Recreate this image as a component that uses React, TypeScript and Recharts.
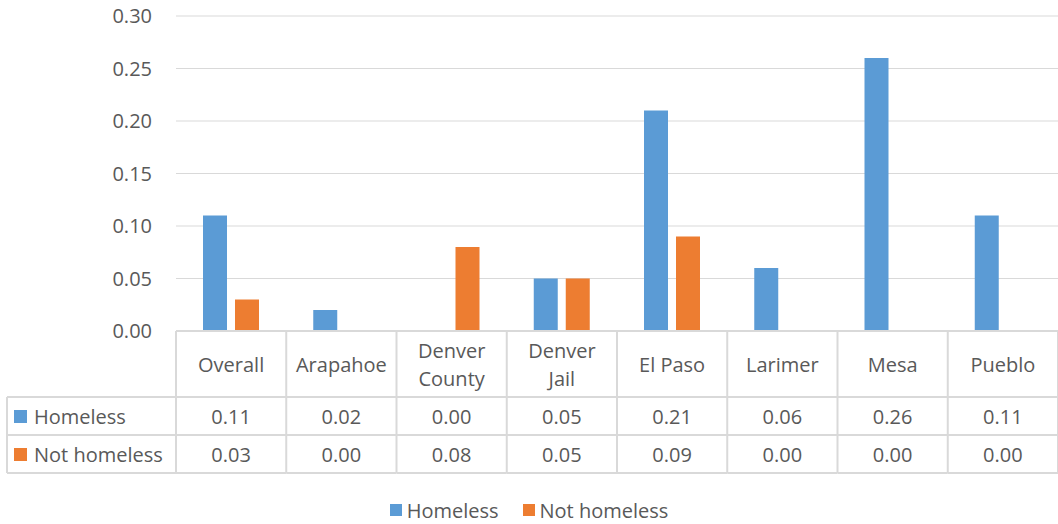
import { Bar, BarChart, CartesianGrid, Legend, XAxis, YAxis } from "recharts";

const categories = ["Overall", "Arapahoe", "Denver County", "Denver Jail", "El Paso", "Larimer", "Mesa", "Pueblo"];
const labelLines = [["Overall"], ["Arapahoe"], ["Denver", "County"], ["Denver", "Jail"], ["El Paso"], ["Larimer"], ["Mesa"], ["Pueblo"]];
const homeless = [0.11, 0.02, 0.0, 0.05, 0.21, 0.06, 0.26, 0.11];
const notHomeless = [0.03, 0.0, 0.08, 0.05, 0.09, 0.0, 0.0, 0.0];
const yTicks = [0, 0.05, 0.1, 0.15, 0.2, 0.25, 0.3];

const seriesNames = ["Homeless", "Not homeless"];
const seriesColors = ["#5B9BD5", "#ED7D31"];

const data = categories.map((name, i) => ({
  name,
  homeless: homeless[i],
  notHomeless: notHomeless[i],
}));

const W = 1058;
const H = 524;
const AXIS_W = 176;
const BAND = (W - AXIS_W) / categories.length;
const FONT = "'Open Sans', sans-serif";
const TEXT = "#595959";
const LINE = "#d9d9d9";

// table rows under the axis, measured from the axis line
const HEAD_H = 66;
const ROW_H = 38;

const TableTick = (props: any) => {
  const { x, y, payload } = props;
  const i = payload.index;
  const left = x - BAND / 2;
  const right = x + BAND / 2;
  const r1 = y + HEAD_H;
  const r2 = r1 + ROW_H;
  const r3 = r2 + ROW_H;
  const lines = labelLines[i];
  const txt = { fill: TEXT, fontSize: 20, fontFamily: FONT, textAnchor: "middle" as const, dominantBaseline: "central" as const };
  return (
    <g>
      {i === 0 && (
        <g>
          <line x1={left} y1={y} x2={left} y2={r3} stroke={LINE} strokeWidth={2} />
          <line x1={7} y1={r1} x2={left} y2={r1} stroke={LINE} strokeWidth={2} />
          <line x1={7} y1={r2} x2={left} y2={r2} stroke={LINE} strokeWidth={2} />
          <line x1={7} y1={r3} x2={left} y2={r3} stroke={LINE} strokeWidth={2} />
          <line x1={7} y1={r1} x2={7} y2={r3} stroke={LINE} strokeWidth={2} />
          {seriesNames.map((s, k) => (
            <g key={s}>
              <rect x={14} y={r1 + k * ROW_H + 13} width={13} height={13} fill={seriesColors[k]} />
              <text x={34} y={r1 + k * ROW_H + 19} fill={TEXT} fontSize={20} fontFamily={FONT} dominantBaseline="central">
                {s}
              </text>
            </g>
          ))}
        </g>
      )}
      <line x1={right} y1={y} x2={right} y2={r3} stroke={LINE} strokeWidth={2} />
      <line x1={left} y1={r1} x2={right} y2={r1} stroke={LINE} strokeWidth={2} />
      <line x1={left} y1={r2} x2={right} y2={r2} stroke={LINE} strokeWidth={2} />
      <line x1={left} y1={r3} x2={right} y2={r3} stroke={LINE} strokeWidth={2} />
      {lines.map((l, k) => (
        <text key={l} x={x} y={y + HEAD_H / 2 + (k - (lines.length - 1) / 2) * 28} {...txt}>
          {l}
        </text>
      ))}
      <text x={x} y={r1 + ROW_H / 2} {...txt}>
        {homeless[i].toFixed(2)}
      </text>
      <text x={x} y={r2 + ROW_H / 2} {...txt}>
        {notHomeless[i].toFixed(2)}
      </text>
    </g>
  );
};

const LegendContent = (props: any) => {
  const { payload } = props;
  return (
    <div style={{ display: "flex", justifyContent: "center", alignItems: "center", gap: 24, fontFamily: FONT, fontSize: 20, color: TEXT, height: 28 }}>
      {(payload || []).map((p: any) => (
        <div key={p.value} style={{ display: "flex", alignItems: "center", gap: 5 }}>
          <span style={{ display: "inline-block", width: 12, height: 12, background: p.color }} />
          <span>{p.value}</span>
        </div>
      ))}
    </div>
  );
};

const App = () => {
  return (
    <div style={{ position: "absolute", left: 0, top: 0, background: "#fff" }}>
      <BarChart
        width={W}
        height={H}
        data={data}
        margin={{ top: 16, right: 0, left: 0, bottom: 0 }}
        barSize={24}
        barGap={8}
      >
        <CartesianGrid vertical={false} stroke={LINE} strokeWidth={1} />
        <XAxis
          dataKey="name"
          interval={0}
          height={165}
          tickSize={0}
          tickMargin={0}
          tickLine={false}
          axisLine={{ stroke: LINE, strokeWidth: 2 }}
          tick={<TableTick />}
        />
        <YAxis
          width={AXIS_W}
          domain={[0, 0.3]}
          ticks={yTicks}
          tickFormatter={(v: number) => v.toFixed(2)}
          axisLine={false}
          tickLine={false}
          tickSize={0}
          tickMargin={24}
          tick={{ fill: TEXT, fontSize: 20, fontFamily: FONT }}
        />
        <Legend verticalAlign="bottom" height={28} content={<LegendContent />} />
        <Bar dataKey="homeless" name={seriesNames[0]} fill={seriesColors[0]} isAnimationActive={false} />
        <Bar dataKey="notHomeless" name={seriesNames[1]} fill={seriesColors[1]} isAnimationActive={false} />
      </BarChart>
    </div>
  );
};

export default App;
